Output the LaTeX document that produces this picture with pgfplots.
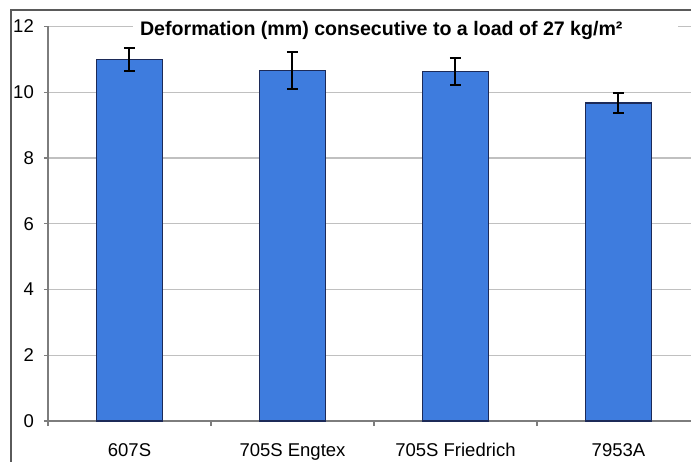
\documentclass[border=0pt]{standalone}
\usepackage{pgfplots}
\pgfplotsset{compat=1.18}
\usepackage{fontspec}
\setmainfont{Liberation Sans}
\definecolor{barblue}{RGB}{62,124,222}
\definecolor{baredge}{RGB}{28,42,88}
\definecolor{gridgray}{RGB}{192,192,192}
\definecolor{axisgray}{RGB}{125,125,125}
\definecolor{framegray}{RGB}{90,90,90}
\begin{document}
\begin{tikzpicture}[x=1pt,y=1pt]
\useasboundingbox (0,0) rectangle (691,461);
\draw[framegray, line width=1.5pt] (11,-10) -- (11,451) -- (700,451);
\begin{axis}[
  at={(48pt,40pt)}, anchor=south west,
  scale only axis, width=643pt, height=394.5pt,
  xmin=-0.5, xmax=3.445, ymin=0, ymax=12,
  axis x line*=bottom, axis y line*=left,
  axis line style={axisgray, line width=1.3pt, -},
  ymajorgrids, grid style={gridgray, line width=1.3pt},
  ytick={0,2,...,12},
  xtick={0,1,2,3},
  xticklabels={607S,705S Engtex,705S Friedrich,7953A},
  minor xtick={-0.5,0.5,1.5,2.5},
  tick align=outside,
  x tick style={draw=none},
  minor x tick style={draw=axisgray, line width=1.2pt},
  minor tick length=5pt,
  y tick style={axisgray, line width=1.2pt},
  major tick length=4pt,
  /pgf/number format/assume math mode=true,
  tick label style={font=\fontsize{18.5}{20}\selectfont},
  xticklabel style={anchor=north, inner sep=0pt, text height=13.5pt, text depth=4pt, yshift=-18pt},
  yticklabel style={anchor=east, inner sep=0pt, xshift=-10pt},
  clip=false,
  error bars/error bar style={black, line width=2pt},
  error bars/error mark options={rotate=90, mark size=5.5pt, line width=2pt, black},
]
\addplot[ybar, bar width=66pt, fill=barblue, draw=baredge, line width=1.4pt,
  error bars/.cd, y dir=both, y explicit,
  error bar style={black, line width=2pt},
  error mark options={rotate=90, mark size=5.5pt, line width=2pt, black}]
coordinates {
  (0,11.00) +- (0,0.34)
  (1,10.66) +- (0,0.55)
  (2,10.64) +- (0,0.41)
  (3,9.67) +- (0,0.31)
};
\fill[white] (axis cs:0.02,11.85) rectangle (axis cs:3.365,12.15);
\node[anchor=base, inner sep=0pt, font=\bfseries\fontsize{19.6}{21}\selectfont] at (axis cs:1.545,11.74) {Deformation (mm) consecutive to a load of 27 kg/m²};
\end{axis}
\end{tikzpicture}
\end{document}
